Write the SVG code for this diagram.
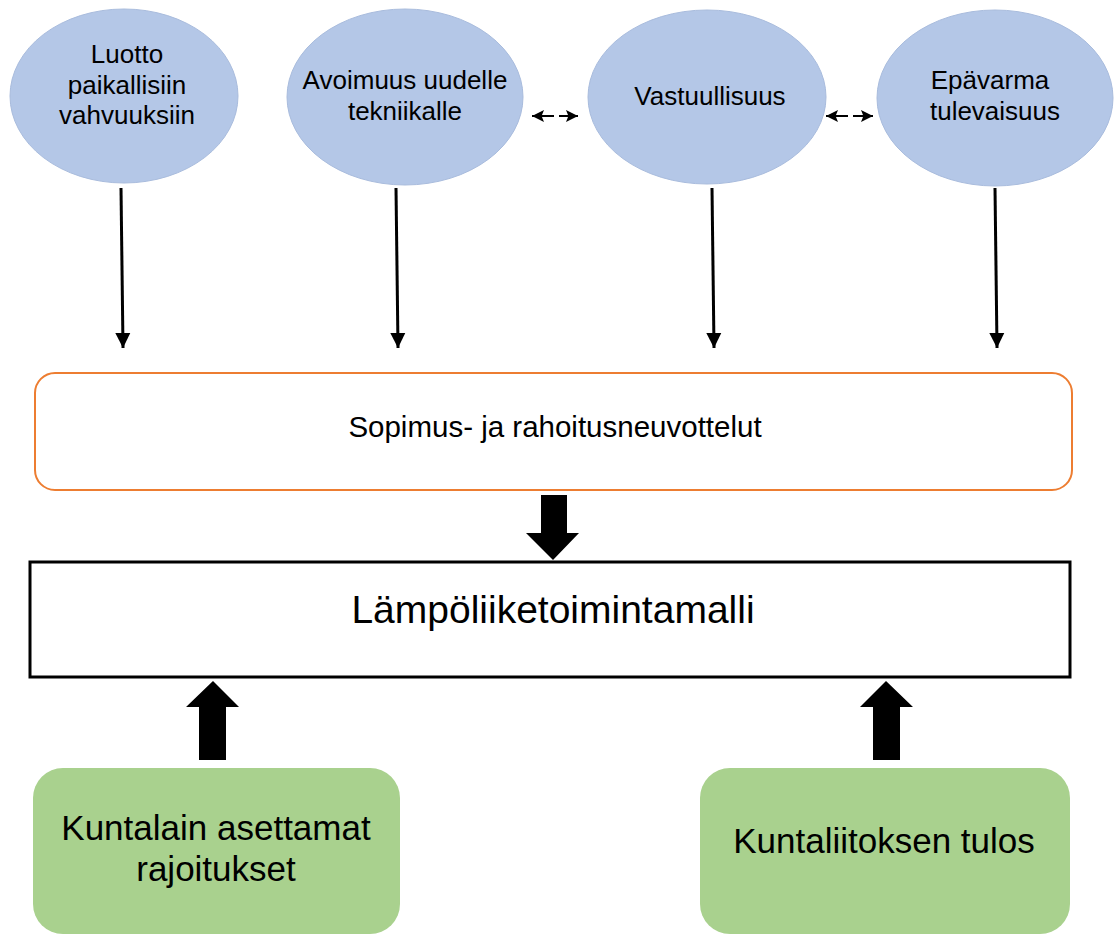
<svg xmlns="http://www.w3.org/2000/svg" width="1115" height="935" viewBox="0 0 1115 935">
<style>
.ell{fill:#B4C7E7;stroke:#A9BCDD;stroke-width:1}
.t{font-family:"Liberation Sans",Arial,sans-serif;fill:#000;text-anchor:middle}
.ts{font-size:26px}
.tm{font-size:29.5px}
.tl{font-size:39px}
.tg{font-size:35px}
.thin{stroke:#000;stroke-width:3;fill:none}
.blk{fill:#000}
.green{fill:#A9D18E}
</style>
<defs>
<marker id="ah" viewBox="0 0 10 10" refX="10" refY="5" markerWidth="12" markerHeight="12" markerUnits="userSpaceOnUse" orient="auto-start-reverse">
<path d="M0,0 L10,5 L0,10 L2,5 z" fill="#000"/>
</marker>
<marker id="av" viewBox="0 0 10 10" refX="10" refY="5" markerWidth="15" markerHeight="16" markerUnits="userSpaceOnUse" orient="auto">
<path d="M0,0 L10,5 L0,10 z" fill="#000"/>
</marker>
</defs>
<rect width="1115" height="935" fill="#fff"/>
<g id="n1"><ellipse class="ell" cx="124" cy="96" rx="114" ry="87"/>
<text class="t ts" x="127" y="63">Luotto</text><text class="t ts" x="127" y="94">paikallisiin</text><text class="t ts" x="127" y="124">vahvuuksiin</text></g>
<g id="n2"><ellipse class="ell" cx="405" cy="97" rx="118" ry="88"/>
<text class="t ts" x="405" y="89">Avoimuus uudelle</text><text class="t ts" x="405" y="120">tekniikalle</text></g>
<g id="n3"><ellipse class="ell" cx="707" cy="97" rx="119" ry="87"/>
<text class="t ts" x="710" y="105">Vastuullisuus</text></g>
<g id="n4"><ellipse class="ell" cx="995" cy="98" rx="118" ry="88"/>
<text class="t ts" x="990" y="89">Epävarma</text><text class="t ts" x="995" y="120">tulevaisuus</text></g>
<g id="n5"><rect x="35" y="373" width="1037" height="117" rx="20" fill="#fff" stroke="#ED7D31" stroke-width="2"/>
<text class="t tm" x="555" y="437">Sopimus- ja rahoitusneuvottelut</text></g>
<g id="n6"><rect x="30" y="562" width="1040" height="115" fill="#fff" stroke="#000" stroke-width="3"/>
<text class="t tl" x="553" y="623">Lämpöliiketoimintamalli</text></g>
<g id="n7"><rect class="green" x="33" y="768" width="367" height="166" rx="30"/>
<text class="t tg" x="216" y="840">Kuntalain asettamat</text><text class="t tg" x="216" y="881">rajoitukset</text></g>
<g id="n8"><rect class="green" x="700" y="768" width="370" height="166" rx="30"/>
<text class="t tg" x="884" y="853">Kuntaliitoksen tulos</text></g>
<g id="connectors">
<line class="thin" x1="121" y1="188" x2="123" y2="348" marker-end="url(#av)"/>
<line class="thin" x1="396" y1="188" x2="398" y2="348" marker-end="url(#av)"/>
<line class="thin" x1="712" y1="188" x2="714" y2="348" marker-end="url(#av)"/>
<line class="thin" x1="995" y1="188" x2="997" y2="348" marker-end="url(#av)"/>
<line x1="532" y1="116" x2="578" y2="116" stroke="#000" stroke-width="2" stroke-dasharray="22,5" marker-start="url(#ah)" marker-end="url(#ah)"/>
<line x1="826" y1="116" x2="873" y2="116" stroke="#000" stroke-width="2" stroke-dasharray="22,5" marker-start="url(#ah)" marker-end="url(#ah)"/>
<path class="blk" d="M541,495 L567,495 L567,533 L579,533 L553,560 L526,533 L541,533 z"/>
<path class="blk" d="M199,760 L226,760 L226,707 L239,707 L213,681 L186,707 L199,707 z"/>
<path class="blk" d="M873,760 L900,760 L900,707 L913,707 L886,681 L860,707 L873,707 z"/>
</g>
</svg>
